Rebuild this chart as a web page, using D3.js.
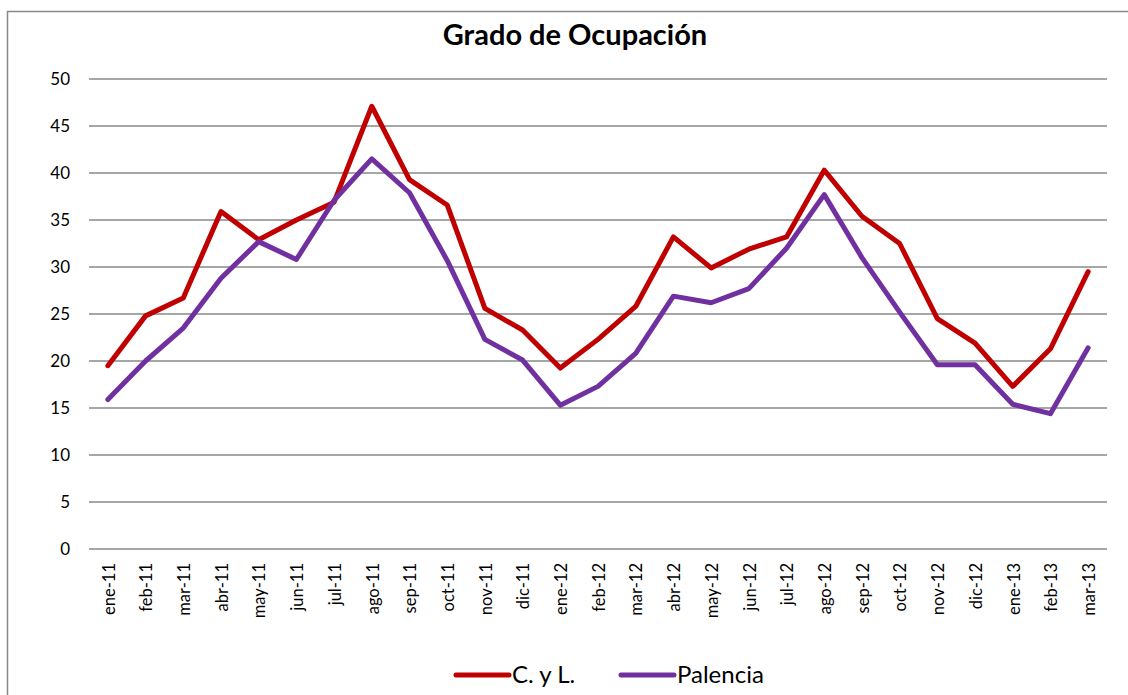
<!DOCTYPE html>
<html>
<head>
<meta charset="utf-8">
<script src="https://cdn.jsdelivr.net/npm/d3@7"></script>
<style>
  body { margin: 0; background: #fff; }
  svg { display: block; font-family: Lato, "Open Sans", sans-serif; }
</style>
</head>
<body>
<div id="chart"></div>
<script>
// Grado de Ocupación

const months = ["ene-11","feb-11","mar-11","abr-11","may-11","jun-11","jul-11","ago-11","sep-11","oct-11","nov-11","dic-11",
    "ene-12","feb-12","mar-12","abr-12","may-12","jun-12","jul-12","ago-12","sep-12","oct-12","nov-12","dic-12",
    "ene-13","feb-13","mar-13"];
const cyl = [19.5, 24.8, 26.7, 35.9, 32.9, 35.0, 36.9, 47.1, 39.3, 36.6, 25.6, 23.3,
    19.25, 22.3, 25.8, 33.2, 29.9, 31.9, 33.2, 40.3, 35.4, 32.5, 24.5, 21.9,
    17.3, 21.3, 29.5];
const palencia = [15.9, 20.0, 23.5, 28.8, 32.7, 30.8, 37.1, 41.5, 37.9, 30.7, 22.3, 20.1,
    15.3, 17.3, 20.8, 26.9, 26.2, 27.7, 32.0, 37.7, 31.0, 25.2, 19.6, 19.6,
    15.4, 14.4, 21.4];
const yTicks = [0, 5, 10, 15, 20, 25, 30, 35, 40, 45, 50];
const seriesNames = ["C. y L.", "Palencia"];
const colors = ["#c00000", "#7030a0"];

const width = 1128, height = 695,
    margin = ({top: 79, right: 21, bottom: 146, left: 89});

let svg = d3.select("#chart")
    .append("svg")
    .attr("width", width)
    .attr("height", height);

// outer frame (right and bottom edges fall outside the picture)
svg.append("rect")
    .attr("x", 7.5).attr("y", 11.5)
    .attr("width", 1140).attr("height", 700)
    .attr("fill", "none")
    .attr("stroke", "#898989")
    .attr("stroke-width", 1.5);

let x = d3.scaleBand()
    .domain(months)
    .range([margin.left, width - margin.right]);

let y = d3.scaleLinear()
    .domain([0, 50])
    .range([height - margin.bottom, margin.top]);

// grid lines
svg.append("g")
    .selectAll("line")
    .data(yTicks)
    .join("line")
    .attr("x1", margin.left)
    .attr("x2", width - margin.right)
    .attr("y1", d => y(d))
    .attr("y2", d => y(d))
    .attr("stroke", "#888")
    .attr("stroke-width", 1.6);

// y axis labels
let yAxis = svg.append("g")
    .attr("transform", `translate(${margin.left - 19},0)`)
    .call(d3.axisLeft(y).tickValues(yTicks).tickSize(0));
yAxis.select(".domain").remove();
yAxis.selectAll("text")
    .attr("x", 0)
    .style("font-size", "17px")
    .style("font-family", "Lato, sans-serif")
    .attr("fill", "#000");

// x axis labels, rotated
let xAxis = svg.append("g")
    .attr("transform", `translate(0,${y(0)})`)
    .call(d3.axisBottom(x).tickSize(0));
xAxis.select(".domain").remove();
xAxis.selectAll("text")
    .attr("transform", "rotate(-90)")
    .attr("x", -14)
    .attr("y", 1)
    .attr("dy", "0.35em")
    .attr("text-anchor", "end")
    .style("font-size", "16.5px")
    .style("font-family", "Lato, sans-serif")
    .attr("fill", "#000");

// lines
let line = d3.line()
    .x((d, i) => x(months[i]) + x.bandwidth() / 2)
    .y(d => y(d));

[cyl, palencia].forEach((s, i) => {
    svg.append("path")
        .datum(s)
        .attr("fill", "none")
        .attr("stroke", colors[i])
        .attr("stroke-width", 5)
        .attr("stroke-linejoin", "round")
        .attr("stroke-linecap", "round")
        .attr("d", line);
});

// title
svg.append("text")
    .text("Grado de Ocupación")
    .attr("x", 575)
    .attr("y", 45)
    .attr("text-anchor", "middle")
    .style("font-size", "29px")
    .style("font-weight", "bold")
    .attr("fill", "#000");

// legend
let legendX = [456, 621];
let legend = svg.append("g")
    .selectAll("g")
    .data(seriesNames)
    .join("g")
    .attr("transform", (d, i) => `translate(${legendX[i]},675)`);

legend.append("line")
    .attr("x1", 0).attr("x2", 53)
    .attr("stroke", (d, i) => colors[i])
    .attr("stroke-width", 5)
    .attr("stroke-linecap", "round");

legend.append("text")
    .text(d => d)
    .attr("x", 56)
    .attr("y", 8)
    .style("font-size", "24px")
    .attr("fill", "#000");
</script>
</body>
</html>
